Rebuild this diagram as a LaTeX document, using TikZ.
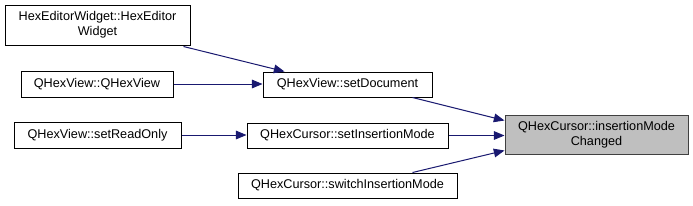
\documentclass[tikz,border=0pt]{standalone}
\usepackage{fontspec}
\setmainfont{Liberation Sans}
\usetikzlibrary{arrows.meta,calc}
\definecolor{edgeblue}{HTML}{191970}
\definecolor{targetgray}{HTML}{BFBFBF}
\tikzset{
  fn/.style={draw=black, fill=white, line width=0.75pt, inner sep=0pt, align=center,
    font=\fontsize{9.5}{11.25}\selectfont},
  target/.style={fn, fill=targetgray, draw=black!75},
  call/.style={draw=edgeblue, line width=0.75pt, -{Triangle[length=8pt,width=6.5pt]}}
}
\begin{document}
\begin{tikzpicture}[x=0.75pt,y=-0.75pt]
\useasboundingbox (0,0) rectangle (693,205);
\fill[white] (0,0) rectangle (693,205);
\node[fn, minimum width=185*0.75pt, minimum height=40*0.75pt] (a) at (97.5,25) {HexEditorWidget::HexEditor\\Widget};
\node[fn, minimum width=152*0.75pt, minimum height=26*0.75pt] (b) at (97,84) {QHexView::QHexView};
\node[fn, minimum width=167*0.75pt, minimum height=26*0.75pt] (c) at (97.5,135) {QHexView::setReadOnly};
\node[fn, minimum width=169*0.75pt, minimum height=25*0.75pt] (d) at (347.5,84.5) {QHexView::setDocument};
\node[fn, minimum width=201*0.75pt, minimum height=25*0.75pt] (e) at (347.5,135.5) {QHexCursor::setInsertionMode};
\node[fn, minimum width=219*0.75pt, minimum height=25*0.75pt] (f) at (347.5,185.5) {QHexCursor::switchInsertionMode};
\node[target, minimum width=183*0.75pt, minimum height=39*0.75pt] (g) at (596.5,134.5) {QHexCursor::insertionMode\\Changed};
\draw[call] ($(a.south east)+(-7,1)$) -- ($(d.north west)+(22,0)$);
\draw[call] (b.east) -- (d.west |- b.east);
\draw[call] (c.east) -- (e.west |- c.east);
\draw[call] ($(d.south east)+(-20,0)$) -- ($(g.north west)+(0,6)$);
\draw[call] (e.east) -- (g.west |- e.east);
\draw[call] ($(f.north east)+(-45,0)$) -- ($(g.south west)+(0,-4)$);
\end{tikzpicture}
\end{document}
